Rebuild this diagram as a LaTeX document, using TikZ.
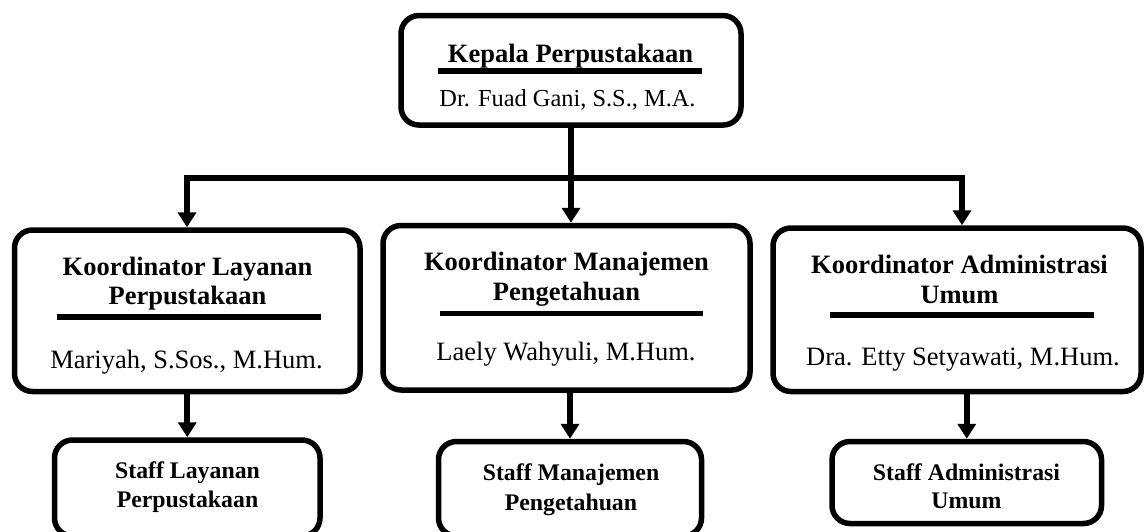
\documentclass[tikz,border=0pt]{standalone}
\usepackage{fontspec}
\setmainfont{Liberation Serif}
\usetikzlibrary{arrows.meta}
\begin{document}
\begin{tikzpicture}[x=1pt,y=-1pt,
  box/.style={draw, line width=5.5pt, rounded corners=18pt, inner sep=0pt, fill=white},
  hd/.style={font=\fontsize{26.5}{30}\selectfont\bfseries, inner sep=0pt, anchor=base},
  nm/.style={font=\fontsize{26.5}{30}\selectfont, inner sep=0pt, anchor=base},
  topnm/.style={font=\fontsize{24.4}{28}\selectfont, inner sep=0pt, anchor=base},
  sf/.style={font=\fontsize{23.8}{28}\selectfont\bfseries, inner sep=0pt, anchor=base},
  rule/.style={line width=5.3pt},
  conn/.style={line width=6pt},
  arr/.style={conn, -{Triangle[length=15pt,width=18pt]}}
]
\useasboundingbox (0,0) rectangle (1147,531);
\fill[white] (0,0) rectangle (1147,531);

% boxes
\node[box, minimum width=340pt, minimum height=109.5pt] (T) at (571,70.3) {};
\node[box, minimum width=345.5pt, minimum height=161.5pt] (L) at (187.25,310.75) {};
\node[box, minimum width=367pt, minimum height=164.5pt] (M) at (566.5,307.75) {};
\node[box, minimum width=368pt, minimum height=163.5pt] (R) at (957,309.75) {};
\node[box, minimum width=265.5pt, minimum height=96pt] (LS) at (187.25,488) {};
\node[box, minimum width=263pt, minimum height=94.5pt] (MS) at (570,488.75) {};
\node[box, minimum width=269.5pt, minimum height=82pt] (RS) at (966.75,482.5) {};

% top box text
\node[hd] (t1) at (570.5,62) {Kepala Perpustakaan};
\draw[rule] (438,71) -- (702,71);
\node[topnm] (t2) at (567.5,106) {Dr. Fuad Gani, S.S., M.A.};

% left coordinator
\node[hd] (l1) at (187.5,275) {Koordinator Layanan};
\node[hd] (l2) at (187.5,304) {Perpustakaan};
\draw[rule] (57,317) -- (321,317);
\node[nm] (l3) at (186.5,368) {Mariyah, S.Sos., M.Hum.};

% middle coordinator
\node[hd] (m1) at (566.5,270) {Koordinator Manajemen};
\node[hd] (m2) at (566.5,300) {Pengetahuan};
\draw[rule] (440,313.5) -- (703,313.5);
\node[nm] (m3) at (566,360) {Laely Wahyuli, M.Hum.};

% right coordinator
\node[hd] (r1) at (959.5,273) {Koordinator Administrasi};
\node[hd] (r2) at (959.5,303) {Umum};
\draw[rule] (830,315) -- (1094,315);
\node[nm] (r3) at (963,365) {Dra. Etty Setyawati, M.Hum.};

% staff texts
\node[sf] (ls1) at (187.5,478) {Staff Layanan};
\node[sf] (ls2) at (187.5,507) {Perpustakaan};
\node[sf] (ms1) at (571,480) {Staff Manajemen};
\node[sf] (ms2) at (571,510) {Pengetahuan};
\node[sf] (rs1) at (966.5,480) {Staff Administrasi};
\node[sf] (rs2) at (966.5,508) {Umum};

% connectors
\coordinate (jl) at (187,178);
\coordinate (jr) at (962,178);
\draw[arr] (T.south) |- (jl) -- (jl |- L.north);
\draw[arr] (T.south) |- (jr) -- (jr |- R.north);
\draw[arr] (T.south) -- (T.south |- M.north);
\draw[arr] (L.south) -- (LS.north);
\draw[arr] (MS.north |- M.south) -- (MS.north);
\draw[arr] (RS.north |- R.south) -- (RS.north);
\end{tikzpicture}
\end{document}
